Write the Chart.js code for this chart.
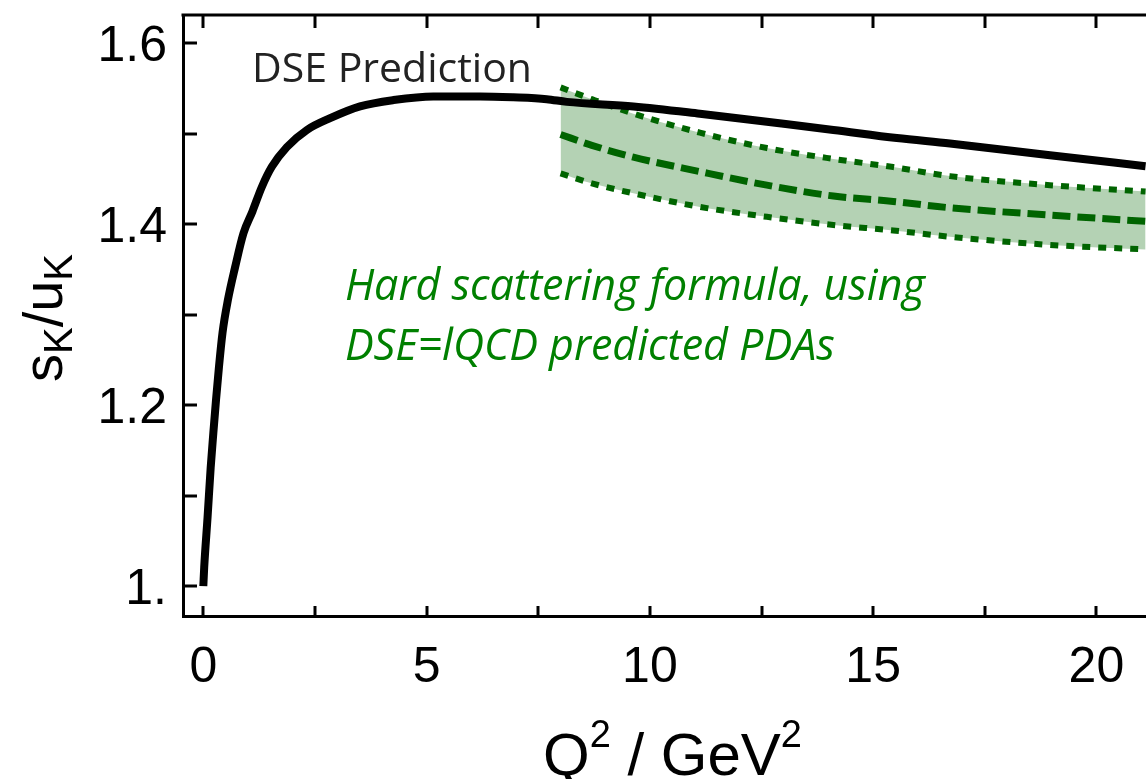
<!DOCTYPE html>
<html><head><meta charset="utf-8">
<script src="https://cdn.jsdelivr.net/npm/chart.js@4/dist/chart.umd.min.js"></script>
<style>html,body{margin:0;padding:0;background:#fff;overflow:hidden}canvas{display:block}</style>
</head><body>
<canvas id="c" width="1146" height="779"></canvas>
<script>
// ---- data ----
const dseQ2    = [0, 0.02, 0.095, 0.165, 0.224, 0.285, 0.35, 0.43, 0.55, 0.71, 0.9, 1.1, 1.31, 1.53, 1.87, 2.32, 2.84, 3.51, 4.26, 5.15, 6.2, 6.94, 7.69, 8.14, 9.63, 11.12, 12.62, 14.11, 15.53, 16.72, 18.96, 21.1];
const dseRatio = [1.000, 1.021, 1.076, 1.131, 1.169, 1.206, 1.242, 1.280, 1.316, 1.352, 1.390, 1.414, 1.441, 1.463, 1.485, 1.504, 1.517, 1.530, 1.537, 1.541, 1.541, 1.540, 1.538, 1.535, 1.530, 1.522, 1.513, 1.504, 1.495, 1.489, 1.476, 1.464];

const bandQ2      = [8.0, 8.7, 9.63, 11.12, 12.62, 14.11, 15.45, 16.72, 18.96, 21.1];
const bandUpper   = [1.551, 1.538, 1.522, 1.501, 1.484, 1.472, 1.463, 1.453, 1.443, 1.436];
const bandCentral = [1.499, 1.487, 1.474, 1.458, 1.443, 1.431, 1.425, 1.418, 1.410, 1.403];
const bandLower   = [1.456, 1.445, 1.434, 1.419, 1.408, 1.399, 1.393, 1.386, 1.377, 1.372];

const xTickValues = [0, 2.5, 5, 7.5, 10, 12.5, 15, 17.5, 20];
const xTickLabels = {0: '0', 5: '5', 10: '10', 15: '15', 20: '20'};
const yTickValues = [1.0, 1.1, 1.2, 1.3, 1.4, 1.5, 1.6];
const yTickLabels = ['1.', '', '1.2', '', '1.4', '', '1.6'];

const dseLabel = 'DSE Prediction';
const bandText = ['Hard scattering formula, using', 'DSE=lQCD predicted PDAs'];

// ---- styles ----
const GREEN_LINE = 'rgb(0,100,0)';
const GREEN_FILL = 'rgb(180,210,180)';
const GREEN_TEXT = 'rgb(0,128,0)';
const SANS = "'Liberation Sans', Arial, sans-serif";

const pts = (xs, ys) => xs.map((x, i) => ({x, y: ys[i]}));

const decor = {
  id: 'decor',
  afterDraw(chart) {
    const {ctx, chartArea: a, scales: {x, y}} = chart;
    ctx.save();
    ctx.strokeStyle = '#000';
    ctx.lineWidth = 3;
    ctx.lineCap = 'butt';
    // top frame line
    ctx.beginPath(); ctx.moveTo(a.left - 1.5, a.top); ctx.lineTo(a.right, a.top); ctx.stroke();
    // inward ticks
    x.ticks.forEach(t => {
      const px = Math.round(x.getPixelForValue(t.value));
      ctx.beginPath(); ctx.moveTo(px, a.bottom); ctx.lineTo(px, a.bottom - 10); ctx.stroke();
      ctx.beginPath(); ctx.moveTo(px, a.top); ctx.lineTo(px, a.top + 13); ctx.stroke();
    });
    y.ticks.forEach(t => {
      const py = Math.round(y.getPixelForValue(t.value));
      ctx.beginPath(); ctx.moveTo(a.left, py); ctx.lineTo(a.left + 14, py); ctx.stroke();
    });

    // annotations anchored in data coordinates
    ctx.textBaseline = 'alphabetic';
    ctx.textAlign = 'left';
    ctx.fillStyle = '#222';
    ctx.font = "41px 'Open Sans', sans-serif";
    ctx.fillText(dseLabel, x.getPixelForValue(1.09), y.getPixelForValue(1.557));

    ctx.fillStyle = GREEN_TEXT;
    ctx.font = "italic 43px 'Open Sans', sans-serif";
    ctx.fillText(bandText[0], x.getPixelForValue(3.17), y.getPixelForValue(1.316));
    ctx.fillText(bandText[1], x.getPixelForValue(3.17), y.getPixelForValue(1.250));

    // x axis title: Q^2 / GeV^2
    ctx.fillStyle = '#000';
    const main = '60px ' + SANS, sup = '38px ' + SANS;
    let cx = 543; const by = 775;
    const parts = [['Q', main, 0], ['2', sup, -28], [' / GeV', main, 0], ['2', sup, -28]];
    parts.forEach(([s, f, dy]) => { ctx.font = f; ctx.fillText(s, cx, by + dy); cx += ctx.measureText(s).width; });

    // y axis title: s_K / u_K (rotated)
    ctx.translate(62, 318);
    ctx.rotate(-Math.PI / 2);
    const ym = '56px ' + SANS, ys = '40px ' + SANS;
    const yparts = [['s', ym, 0], ['K', ys, 10], ['/', ym, 0], ['u', ym, 0], ['K', ys, 10]];
    let tw = 0;
    yparts.forEach(([s, f]) => { ctx.font = f; tw += ctx.measureText(s).width; });
    let tx = -tw / 2;
    yparts.forEach(([s, f, dy]) => { ctx.font = f; ctx.fillText(s, tx, dy); tx += ctx.measureText(s).width; });
    ctx.restore();
  }
};

new Chart(document.getElementById('c'), {
  type: 'line',
  data: {
    datasets: [
      {label: 'DSE', data: pts(dseQ2, dseRatio), borderColor: '#000', borderWidth: 8,
       pointRadius: 0, fill: false, cubicInterpolationMode: 'monotone'},
      {label: 'upper', data: pts(bandQ2, bandUpper), borderColor: GREEN_LINE, borderWidth: 6,
       borderDash: [8, 8], pointRadius: 0, fill: '+1', backgroundColor: GREEN_FILL, cubicInterpolationMode: 'monotone'},
      {label: 'lower', data: pts(bandQ2, bandLower), borderColor: GREEN_LINE, borderWidth: 6,
       borderDash: [8, 8], pointRadius: 0, fill: false, cubicInterpolationMode: 'monotone'},
      {label: 'central', data: pts(bandQ2, bandCentral), borderColor: GREEN_LINE, borderWidth: 7,
       borderDash: [18, 7], pointRadius: 0, fill: false, cubicInterpolationMode: 'monotone'}
    ]
  },
  options: {
    responsive: false, animation: false, devicePixelRatio: 1,
    layout: {padding: {top: 15, left: 0, right: 0, bottom: 0}},
    plugins: {legend: {display: false}, tooltip: {enabled: false}, filler: {drawTime: 'beforeDatasetsDraw'}},
    scales: {
      x: {
        type: 'linear', min: -0.455, max: 21.11,
        afterBuildTicks: s => { s.ticks = xTickValues.map(v => ({value: v})); },
        afterFit: s => { s.height = 163; s.paddingLeft = 0; s.paddingRight = 0; },
        grid: {display: false, drawTicks: false},
        border: {display: true, width: 3, color: '#000'},
        ticks: {autoSkip: false, maxRotation: 0, minRotation: 0, padding: 22, color: '#000',
                font: {family: SANS, size: 50}, callback: v => xTickLabels[v] ?? ''}
      },
      y: {
        type: 'linear', min: 0.967, max: 1.631,
        afterBuildTicks: s => { s.ticks = yTickValues.map(v => ({value: v})); },
        afterFit: s => { s.width = 183; s.paddingTop = 0; s.paddingBottom = 0; },
        grid: {display: false, drawTicks: false},
        border: {display: true, width: 3, color: '#000'},
        ticks: {autoSkip: false, padding: 16, color: '#000', labelOffset: 4,
                font: {family: SANS, size: 50}, callback: (v, i) => yTickLabels[i] ?? ''}
      }
    }
  },
  plugins: [decor]
});
</script>
</body></html>
